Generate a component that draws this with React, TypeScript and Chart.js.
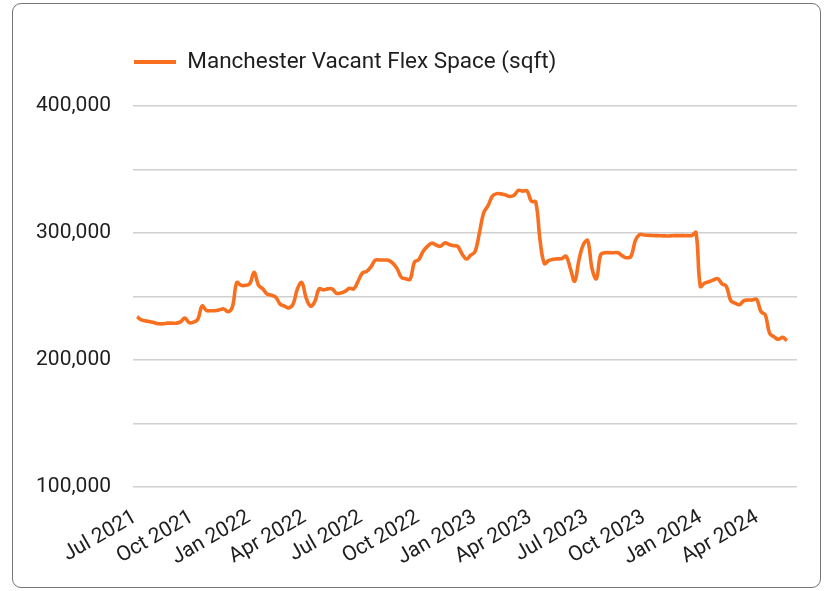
import React, { useEffect, useRef } from 'react';
import { Chart, registerables } from 'chart.js';

Chart.register(...registerables);

const seriesLabel = 'Manchester Vacant Flex Space (sqft)';
const startDate = '2021-06-28';
const stepDays = 7;

const values = [
  234000, 231500, 230800, 230200, 229300, 228500, 228500, 229000, 229000, 229000,
  230000, 233000, 229400, 229800, 232000, 242500, 239000, 238800, 238800, 239500,
  240200, 238000, 242000, 261000, 258800, 258800, 260000, 269000, 259000, 256000,
  252000, 251000, 249500, 244000, 242500, 241000, 244000, 256000, 261000, 249000,
  242500, 246000, 256000, 255200, 256000, 256000, 252500, 252800, 254000, 256500,
  256000, 262000, 268500, 269800, 273500, 278700, 278700, 278700, 278500, 276300,
  272000, 265000, 264000, 263500, 277000, 279000, 285500, 289500, 292000, 290500,
  289500, 292200, 291000, 290000, 289500, 283500, 279500, 282500, 285300, 300000,
  316000, 321500, 329000, 331000, 330800, 330000, 328800, 329700, 333500, 333000,
  333200, 325000, 324500, 294500, 276000, 278300, 279400, 279600, 279800, 281700,
  272000, 262000, 279000, 291000, 294000, 272000, 264000, 283000, 284400, 284500,
  284500, 284500, 282000, 280500, 281600, 294000, 298800, 298400, 298200, 298000,
  297900, 297800, 297700, 297700, 297900, 297900, 297900, 297900, 298000, 300300,
  258000, 260500, 261600, 263000, 264000, 260000, 258000, 247000, 244800, 243500,
  246500, 247200, 247200, 247800, 238000, 235500, 221000, 218300, 216300, 217800,
  215300,
];

const tickDates = [
  '2021-07-01', '2021-10-01', '2022-01-01', '2022-04-01', '2022-07-01', '2022-10-01',
  '2023-01-01', '2023-04-01', '2023-07-01', '2023-10-01', '2024-01-01', '2024-04-01',
];
const tickLabels = [
  'Jul 2021', 'Oct 2021', 'Jan 2022', 'Apr 2022', 'Jul 2022', 'Oct 2022',
  'Jan 2023', 'Apr 2023', 'Jul 2023', 'Oct 2023', 'Jan 2024', 'Apr 2024',
];

const yMin = 100000;
const yMax = 400000;
const yStep = 50000;
const yLabelStep = 100000;

const DAY_MS = 86400000;
const originMs = Date.parse('2021-07-01');
const dayOf = (d: string) => (Date.parse(d) - originMs) / DAY_MS;

const LINE_COLOR = '#f8701f';
const TEXT_COLOR = '#1e1e1e';
const FONT = 'Roboto';

export default function App() {
  const ref = useRef<HTMLCanvasElement | null>(null);

  useEffect(() => {
    if (!ref.current) return;
    const start = dayOf(startDate);
    const points = values.map((v, i) => ({ x: start + i * stepDays, y: v }));
    const tickDays = tickDates.map(dayOf);

    const chart = new Chart(ref.current, {
      type: 'line',
      data: {
        datasets: [
          {
            label: seriesLabel,
            data: points,
            borderColor: LINE_COLOR,
            backgroundColor: LINE_COLOR,
            borderWidth: 3.6,
            pointRadius: 0,
            tension: 0.4,
            fill: false,
          },
        ],
      },
      options: {
        animation: false,
        responsive: false,
        maintainAspectRatio: false,
        layout: { padding: { top: 45.75, left: 0, right: 23, bottom: 10 } },
        plugins: {
          tooltip: { enabled: false },
          title: {
            display: true,
            text: '',
            weight: 500,
            position: 'top',
            font: { size: 10, lineHeight: 1.2 },
            padding: { top: 0, bottom: 10.75 },
          },
          legend: {
            display: true,
            position: 'top',
            align: 'start',
            fullSize: false,
            labels: {
              boxWidth: 42,
              boxHeight: 4,
              padding: 1,
              color: TEXT_COLOR,
              font: { family: FONT, size: 22.5 },
              generateLabels: (c: any) =>
                Chart.defaults.plugins.legend.labels
                  .generateLabels(c)
                  .map((it: any) => ({ ...it, lineWidth: 0, fillStyle: LINE_COLOR })),
            },
          },
        },
        scales: {
          x: {
            type: 'linear',
            min: -9.7,
            max: 1063.2,
            grid: { display: false, drawTicks: false },
            border: { display: false },
            afterBuildTicks: (s: any) => {
              s.ticks = tickDays.map((v) => ({ value: v }));
            },
            afterFit: (s: any) => {
              s.height = 90;
            },
            ticks: {
              autoSkip: false,
              minRotation: 30,
              maxRotation: 30,
              padding: 18,
              labelOffset: -4,
              color: TEXT_COLOR,
              font: { family: FONT, size: 21 },
              callback: (_v: any, i: number) => tickLabels[i],
            },
          },
          y: {
            type: 'linear',
            min: yMin,
            max: yMax,
            grid: { color: '#d0d0d0', lineWidth: 1.5, drawTicks: false },
            border: { display: false },
            afterFit: (s: any) => {
              s.width = 120;
            },
            ticks: {
              stepSize: yStep,
              padding: 22,
              color: TEXT_COLOR,
              font: { family: FONT, size: 21 },
              callback: (v: any) =>
                Number(v) % yLabelStep === 0 ? Number(v).toLocaleString('en-US') : '',
            },
          },
        },
      },
    } as any);

    return () => chart.destroy();
  }, []);

  return (
    <div
      style={{
        position: 'absolute',
        left: 12,
        top: 3,
        width: 807,
        height: 583,
        border: '1px solid #757575',
        borderRadius: 9,
        background: '#ffffff',
        overflow: 'hidden',
      }}
    >
      <canvas ref={ref} width={807} height={583} style={{ display: 'block' }} />
    </div>
  );
}
